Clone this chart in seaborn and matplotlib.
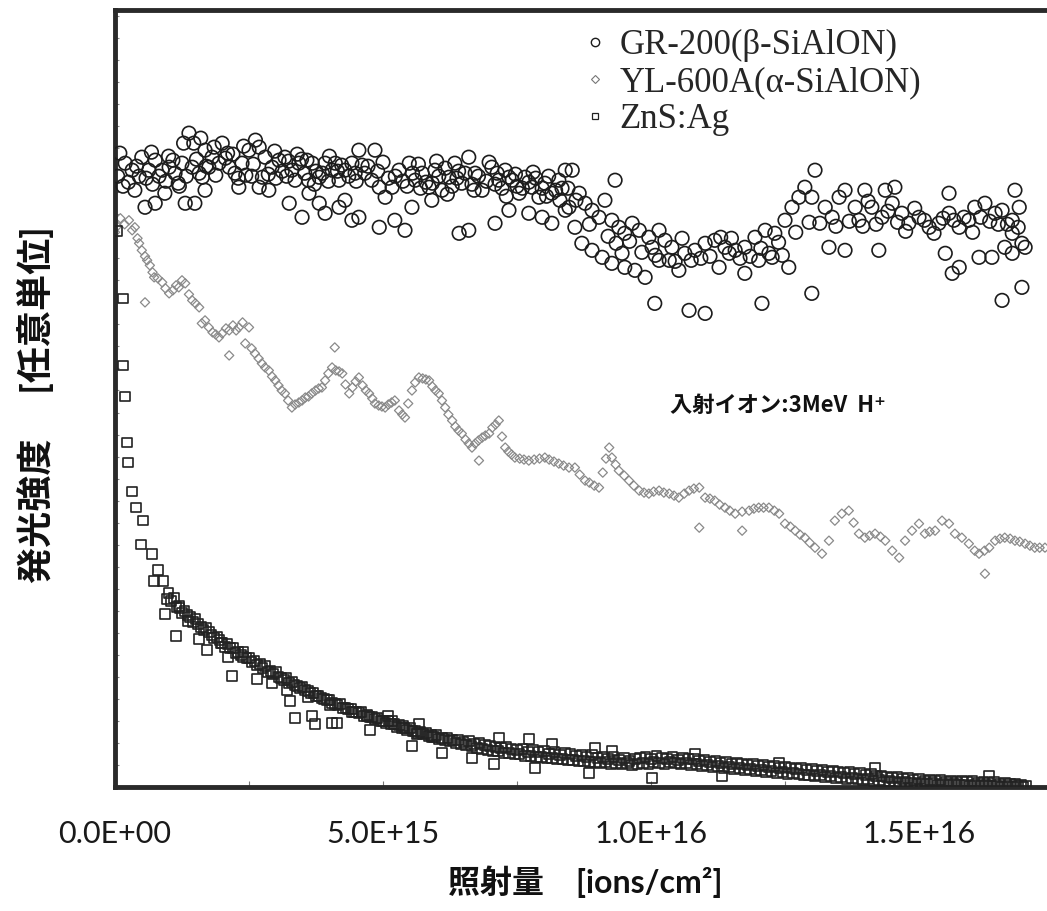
import matplotlib
matplotlib.use("Agg")
import matplotlib.pyplot as plt
import seaborn as sns
import pandas as pd
from matplotlib.ticker import FixedLocator, MultipleLocator
from matplotlib.lines import Line2D

# ---------------- data (dose in 1e15 ions/cm2, intensity in arbitrary units) -------------
series_names = ["GR-200(β-SiAlON)", "YL-600A(α-SiAlON)", "ZnS:Ag"]
x_tick_values = [0, 5, 10, 15]
x_tick_labels = ["0.0E+00", "5.0E+15", "1.0E+16", "1.5E+16"]

gr_points = [
    (0.09,63.3),(0.19,62.3),(0.32,61.6),(0.50,62.9),(0.63,61.6),(0.75,62.6),(0.88,61.6),(1.01,61.9),
    (1.12,61.3),(1.25,62.3),(1.44,61.9),(1.57,61.3),(1.38,65.3),(1.28,64.3),(1.47,64.3),(1.68,63.6),
    (1.81,62.9),(2.00,64.3),(1.94,62.3),(2.13,61.9),(2.24,61.3),(2.37,62.3),(2.50,63.6),(2.69,63.9),
    (2.80,62.9),(2.93,61.9),(3.06,62.6),(3.17,62.9),(3.30,61.6),(3.43,62.3),(3.54,61.3),(3.68,62.3),
    (3.81,60.9),(3.92,62.3),(4.05,61.6),(4.18,60.6),(4.29,61.6),(4.42,62.3),(4.55,63.6),(4.85,63.6),
    (4.66,61.3),(4.79,60.6),(4.93,59.9),(5.04,58.9),(5.17,59.9),(5.30,61.6),(5.49,62.3),(5.60,60.6),
    (5.73,61.3),(5.86,59.9),(5.97,61.6),(6.10,59.6),(6.23,60.9),(6.34,62.3),(6.47,60.3),(6.60,62.9),
    (6.72,61.3),(6.85,59.6),(7.03,61.9),(7.16,60.6),(7.28,61.6),(7.41,60.6),(7.54,59.3),(7.65,60.9),
    (7.78,59.9),(7.91,58.9),(8.02,60.3),(8.15,59.3),(8.28,60.6),(8.40,61.6),(8.47,57.9),
    (0.05,61.0),(0.25,60.4),(0.40,62.0),(0.58,60.8),(0.70,60.2),(0.82,61.0),(0.95,60.5),(1.08,62.6),
    (1.18,60.3),(1.33,61.0),(1.52,62.7),(1.63,60.9),(1.75,61.9),(1.88,61.1),(2.06,62.8),(2.20,63.2),
    (2.30,60.8),(2.44,61.1),(2.58,62.2),(2.75,60.9),(2.86,61.2),(3.00,60.8),(3.12,61.5),(3.24,62.5),
    (3.36,60.6),(3.48,62.7),(3.61,60.6),(3.75,61.5),(3.87,61.3),(3.98,60.5),(4.11,62.3),(4.23,62.1),
    (4.36,61.0),(4.48,61.3),(4.61,62.1),(4.72,62.0),(5.10,60.8),(5.23,61.0),(5.37,60.5),(5.55,61.3),
    (5.66,62.2),(5.80,60.4),(5.92,60.3),(6.04,61.0),(6.16,61.8),(6.29,60.0),(6.41,61.5),(6.53,61.3),
    (6.66,60.2),(6.78,61.0),(6.93,60.5),(7.09,60.2),(7.22,59.8),(7.35,60.9),(7.47,61.2),(7.60,59.8),
    (7.72,60.4),(7.85,60.8),(7.97,59.8),(8.09,61.0),(8.22,59.6),(8.34,59.8),
    (0.15,60.0),(0.45,61.0),(0.68,63.4),(1.00,63.0),(1.20,60.0),(1.60,64.8),(1.70,62.0),(1.85,63.9),
    (2.10,63.3),(2.40,64.0),(2.55,61.0),(2.62,64.6),(2.98,63.5),(3.20,61.0),(3.40,63.2),(3.58,62.6),
    (3.72,60.2),(4.00,63.0),(4.15,61.5),(4.50,60.5),(4.90,61.5),(5.00,62.4),(5.45,60.0),(5.70,59.8),
    (6.00,62.5),(6.20,59.2),(6.38,60.8),(6.70,59.6),(6.98,62.4),(7.13,61.3),(7.30,59.0),(7.50,60.0),
    (7.80,61.4),(8.05,59.0),(8.30,58.6),(8.45,59.8),
    (0.56,57.9),(0.75,58.3),(0.93,59.3),(0.37,59.6),(1.31,58.3),(1.49,58.3),(1.68,59.6),(2.31,59.9),
    (2.69,59.9),(2.87,59.6),(3.25,58.3),(3.49,56.9),(3.62,59.3),(3.81,58.3),(3.92,57.3),(4.18,57.9),
    (4.29,58.6),(4.42,56.6),(4.55,56.9),(4.93,55.9),(5.22,56.6),(5.41,55.6),(5.54,57.9),(5.91,58.6),
    (6.42,55.3),(6.60,55.6),(7.09,56.3),(7.35,57.6),(7.72,57.3),(7.97,56.9),(8.15,56.3),(8.40,57.6),
    (8.53,61.6),(9.33,60.6),(9.14,58.6),(8.66,59.3),(8.77,58.3),(8.90,57.6),(9.03,56.9),(8.58,55.9),
    (8.71,54.3),(8.90,53.6),(9.09,52.9),(9.27,56.6),(9.40,55.9),(9.51,55.3),(9.65,56.3),(9.78,55.6),
    (9.96,54.9),(10.15,55.6),(10.26,54.6),(10.39,53.9),(10.02,53.9),(9.46,53.3),(9.27,52.3),(9.51,51.9),
    (9.70,51.6),(9.89,50.9),(10.15,52.6),(10.34,52.6),(10.52,51.6),(10.63,53.3),(10.82,53.6),(11.01,54.3),
    (11.19,54.6),(11.38,53.9),(11.57,53.6),(11.75,53.9),(11.94,54.9),(12.13,55.6),(12.31,55.3),(12.50,56.6),
    (12.63,57.9),(12.76,58.9),(12.87,59.9),(13.00,58.9),(13.06,61.6),(13.25,57.9),(13.38,56.9),(13.51,58.9),
    (13.62,59.6),(13.81,57.9),(13.99,59.6),(13.88,56.6),(14.12,57.9),(14.31,56.9),(14.50,58.3),(14.68,57.3),
    (14.81,56.3),(15.00,56.9),(15.19,55.9),(15.37,56.3),(15.56,57.3),(15.75,55.9),(15.93,56.6),(16.04,57.9),
    (16.23,58.3),(16.42,57.3),(16.55,57.6),(16.74,56.6),(16.87,57.9),(16.92,54.3),(16.79,59.6),(16.74,55.3),
    (16.60,53.9),
    (10.07,48.3),(10.71,47.6),(11.01,47.3),(12.07,48.3),(13.00,49.3),(16.55,48.6),(16.92,49.9),
    (14.37,59.6),(14.55,59.9),(15.56,59.3),(13.32,53.9),(13.62,53.6),(14.25,53.6),(15.62,51.3),(15.75,51.9),
    (15.49,53.3),(16.12,52.9),(16.36,52.9),(16.74,53.3),(16.98,53.9),(12.57,51.9),(12.26,52.9),(11.75,51.3),
    (11.46,53.3),(12.01,52.6),(12.20,53.3),(11.27,51.9),
    (8.60,58.6),(8.85,56.2),(9.20,55.0),(9.35,54.3),(9.60,54.5),(9.83,53.4),(10.08,53.1),(10.45,52.5),
    (10.58,54.8),(10.75,52.6),(10.93,52.8),(11.10,53.0),(11.30,54.9),(11.50,54.8),(11.66,52.8),(11.85,53.0),
    (12.05,53.8),(12.38,54.4),(12.45,53.1),(12.70,55.4),(12.95,56.4),(13.15,56.3),(13.45,56.0),(13.70,56.5),
    (13.95,56.0),(14.05,58.5),(14.20,56.2),(14.42,57.5),(14.60,56.4),(14.75,55.5),(14.92,57.8),(15.10,56.6),
    (15.28,55.3),(15.45,56.8),(15.65,56.6),(15.84,56.9),(16.00,55.4),(16.15,56.9),(16.32,56.5),(16.48,56.2),
    (16.65,56.2),(16.85,55.9),
]

yl_points = [
    (0.00,55.4),(0.04,56.0),(0.10,56.8),(0.18,56.2),(0.26,56.6),(0.32,55.6),(0.37,55.9),(0.42,54.8),
    (0.45,54.3),(0.50,53.6),(0.56,53.0),(0.60,52.6),(0.65,52.1),(0.70,51.4),(0.73,50.9),(0.80,50.8),
    (0.88,50.4),(0.94,49.8),(1.01,49.3),(1.08,49.6),(1.14,50.1),(1.19,49.9),(1.25,50.6),(1.31,50.3),
    (1.38,49.2),(1.44,48.6),(1.50,48.3),(1.57,47.9),(1.62,46.3),(1.68,46.6),(1.75,45.9),(1.82,45.4),
    (1.88,45.2),(1.94,44.9),(2.00,45.3),(2.07,45.8),(2.13,45.6),(2.20,46.1),(2.26,45.6),(2.31,45.9),
    (2.38,46.4),(2.43,44.3),(2.50,45.9),(2.55,43.8),(2.61,43.3),(2.68,42.8),(2.74,42.3),(2.80,41.9),
    (2.87,41.6),(2.93,41.0),(2.99,40.6),(3.05,40.1),(3.11,39.6),(3.17,39.3),(3.23,38.6),(3.30,37.9),
    (3.36,38.2),(3.43,38.4),(3.49,38.6),(3.55,38.9),(3.61,39.0),(3.67,39.3),(3.74,39.6),(3.80,39.8),
    (3.86,39.9),(3.92,40.6),(3.98,41.3),(4.05,41.9),(4.12,41.6),(4.18,41.5),(4.24,41.3),(4.30,40.2),
    (4.37,39.3),(4.43,39.9),(4.49,40.5),(4.55,40.9),(4.62,40.1),(4.68,39.6),(4.74,39.3),(4.80,38.8),
    (4.85,38.3),(4.92,38.1),(4.98,38.0),(5.04,37.9),(5.10,38.2),(5.16,38.4),(5.22,38.6),(5.30,37.6),
    (5.36,37.2),(5.41,36.9),(5.47,38.3),(5.54,39.6),(5.60,40.4),(5.67,40.9),(5.74,40.8),(5.80,40.7),
    (5.86,40.6),(5.92,40.0),(5.98,39.6),(6.04,39.3),(6.10,38.6),(6.16,37.9),(6.22,37.2),(6.29,36.6),
    (6.35,36.0),(6.41,35.6),(6.47,35.3),(6.54,34.7),(6.60,34.3),(6.66,33.9),(6.72,34.3),(6.78,34.6),
    (6.85,34.9),(6.91,35.1),(6.98,35.3),(7.04,35.9),(7.10,36.2),(7.16,36.6),(7.22,35.0),(7.28,33.9),
    (7.34,33.5),(7.40,33.2),(7.46,32.9),(7.55,32.8),(7.63,32.7),(7.72,32.6),(7.82,32.7),(7.92,32.8),
    (8.02,32.9),(8.10,32.7),(8.19,32.5),(8.28,32.3),(8.37,32.1),(8.47,31.9),(8.58,31.9),(8.67,31.2),
    (8.77,30.6),(8.85,30.4),(8.94,30.1),(9.03,29.9),(9.10,31.4),(9.16,32.8),(9.22,33.9),(9.27,32.9),
    (9.34,32.2),(9.40,31.6),(9.50,31.1),(9.59,30.6),(9.68,30.1),(9.78,29.6),(9.87,29.4),(9.96,29.3),
    (10.05,29.5),(10.15,29.6),(10.24,29.4),(10.34,29.3),(10.43,29.1),(10.52,28.9),(10.62,29.3),(10.71,29.6),
    (10.80,29.8),(10.90,29.9),(11.01,28.9),(11.10,28.8),(11.19,28.6),(11.28,28.2),(11.38,27.9),(11.47,27.6),
    (11.57,27.3),(11.70,27.5),(11.83,27.6),(11.92,27.8),(12.01,27.9),(12.10,27.9),(12.20,27.9),(12.30,27.6),
    (12.39,27.3),(12.50,26.3),(12.60,26.0),(12.69,25.6),(12.78,25.2),(12.87,24.9),(12.96,24.4),(13.06,23.9),
    (13.19,23.3),(13.32,24.6),(13.43,26.6),(13.56,27.3),(13.69,27.6),(13.78,26.4),(13.88,25.3),(13.99,24.9),
    (14.08,25.1),(14.18,25.3),(14.28,25.0),(14.37,24.6),(14.50,23.6),(14.63,22.9),(14.74,24.6),(14.87,25.6),
    (15.00,26.3),(15.11,25.3),(15.20,25.5),(15.30,25.6),(15.43,26.6),(15.56,26.3),(15.67,25.3),(15.80,24.9),
    (15.93,24.3),(16.04,23.6),(16.12,23.3),(16.22,23.6),(16.31,23.9),(16.42,24.6),(16.51,24.8),(16.60,24.9),
    (16.70,24.8),(16.79,24.6),(16.88,24.5),(16.98,24.3),(17.07,24.1),(17.16,23.9),(17.25,23.9),(17.35,23.9),
    (0.56,48.4),(4.10,43.9),(6.79,32.6),(10.90,25.9),(11.70,25.6),(16.23,21.3),(2.13,43.1),
]

zns_band_x = [
    0.8,0.9,1.0,1.1,1.2,1.3,1.4,1.5,1.6,1.7,1.8,1.9,2.0,2.1,2.2,2.3,2.4,2.5,2.6,2.7,
    2.8,2.9,3.0,3.1,3.2,3.3,3.4,3.5,3.6,3.7,3.8,3.9,4.0,4.1,4.2,4.3,4.4,4.5,4.6,4.7,
    4.8,4.9,5.0,5.1,5.2,5.3,5.4,5.5,5.6,5.7,5.8,5.9,6.0,6.1,6.2,6.3,6.4,6.5,6.6,6.7,
    6.8,6.9,7.0,7.1,7.2,7.3,7.4,7.5,7.6,7.7,7.8,7.9,8.0,8.1,8.2,8.3,8.4,8.5,8.6,8.7,
    8.8,8.9,9.0,9.1,9.2,9.3,9.4,9.5,9.6,9.7,9.8,9.9,10.0,10.1,10.2,10.3,10.4,10.5,10.6,10.7,
    10.8,10.9,11.0,11.1,11.2,11.3,11.4,11.5,11.6,11.7,11.8,11.9,12.0,12.1,12.2,12.3,12.4,12.5,12.6,12.7,
    12.8,12.9,13.0,13.1,13.2,13.3,13.4,13.5,13.6,13.7,13.8,13.9,14.0,14.1,14.2,14.3,14.4,14.5,14.6,14.7,
    14.8,14.9,15.0,15.1,15.2,15.3,15.4,15.5,15.6,15.7,15.8,15.9,16.0,16.1,16.2,16.3,16.4,16.5,16.6,16.7,
    16.8,16.9,17.0,
]
zns_band_y = [
    21.7,20.6,19.4,18.9,17.9,17.6,17.0,16.8,16.0,15.9,15.2,15.0,14.4,14.3,13.9,13.5,13.5,12.9,12.6,12.3,
    12.1,11.6,11.5,10.9,10.9,10.5,10.1,10.0,9.6,9.4,9.1,8.8,8.7,8.3,8.3,7.9,7.8,7.5,7.5,7.2,
    7.0,6.9,6.6,6.6,6.3,6.2,5.9,5.9,5.6,5.5,5.4,5.2,5.2,4.9,4.9,4.7,4.7,4.5,4.6,4.3,
    4.4,4.2,4.1,4.0,3.9,4.0,3.8,3.7,3.8,3.5,3.7,3.5,3.6,3.3,3.5,3.2,3.4,3.3,3.1,3.2,
    3.0,3.2,2.9,3.0,2.8,3.0,2.7,2.9,2.6,2.8,2.9,3.0,2.8,3.1,2.9,2.8,3.0,2.7,2.9,2.8,
    2.8,2.6,2.7,2.5,2.6,2.4,2.5,2.3,2.4,2.3,2.2,2.3,2.1,2.2,2.0,2.1,1.9,2.0,1.9,1.8,
    1.9,1.7,1.8,1.6,1.7,1.5,1.6,1.5,1.4,1.5,1.3,1.4,1.2,1.3,1.1,1.1,1.0,0.9,1.0,0.8,
    0.9,0.7,0.8,0.6,0.7,0.6,0.7,0.5,0.6,0.5,0.6,0.5,0.6,0.4,0.5,0.4,0.5,0.3,0.4,0.3,
    0.3,0.2,0.1,
]
zns_band2_x = [
    1.05,1.15,1.25,1.35,1.45,1.55,1.65,1.75,1.85,1.95,2.05,2.15,2.25,2.35,2.45,2.55,2.65,2.75,2.85,2.95,
    3.05,3.15,3.25,3.35,3.45,3.55,3.65,3.75,3.85,3.95,4.05,4.15,4.25,4.35,4.45,4.55,4.65,4.75,4.85,4.95,
    5.05,5.15,5.25,5.35,5.45,5.55,5.65,5.75,5.85,5.95,6.05,6.15,6.25,6.35,6.45,6.55,6.65,6.75,6.85,6.95,
    7.05,7.15,7.25,7.35,7.45,7.55,7.65,7.75,7.85,7.95,8.05,8.15,8.25,8.35,8.45,8.55,8.65,8.75,8.85,8.95,
    9.05,9.15,9.25,9.35,9.45,9.55,9.65,9.75,9.85,9.95,10.05,10.15,10.25,10.35,10.45,10.55,10.65,10.75,10.85,10.95,
    11.05,11.15,11.25,11.35,11.45,11.55,11.65,11.75,11.85,11.95,12.05,12.15,12.25,12.35,12.45,12.55,12.65,12.75,12.85,12.95,
    13.05,13.15,13.25,13.35,13.45,13.55,13.65,13.75,13.85,13.95,14.05,14.15,14.25,14.35,14.45,14.55,14.65,14.75,14.85,14.95,
    15.05,15.15,15.25,15.35,15.45,15.55,15.65,15.75,15.85,15.95,16.05,16.15,16.25,16.35,16.45,16.55,16.65,16.75,16.85,16.95,
]
zns_band2_y = [
    18.6,18.0,17.4,17.2,16.5,16.3,15.7,15.5,14.9,14.7,14.0,13.9,13.4,13.2,12.9,12.5,12.2,11.9,11.5,11.3,
    11.0,10.7,10.4,10.2,9.9,9.7,9.4,9.1,8.9,8.7,8.4,8.2,7.9,7.8,7.5,7.4,7.1,7.0,6.8,6.6,
    6.4,6.3,6.0,5.9,5.7,5.6,5.4,5.3,5.1,5.0,4.8,4.7,4.6,4.4,4.3,4.2,4.1,3.9,3.8,3.7,
    3.6,3.6,3.4,3.4,3.3,3.3,3.1,3.1,3.0,3.0,2.9,2.9,2.8,2.8,2.7,2.7,2.6,2.6,2.5,2.5,
    2.4,2.5,2.3,2.4,2.3,2.4,2.2,2.3,2.4,2.3,2.5,2.4,2.3,2.5,2.4,2.3,2.4,2.2,2.3,2.1,
    2.2,2.0,2.1,1.9,2.0,1.8,1.9,1.7,1.8,1.6,1.7,1.5,1.6,1.4,1.5,1.3,1.4,1.3,1.2,1.2,
    1.1,1.2,1.0,1.1,0.9,1.0,0.8,0.9,0.8,0.7,0.8,0.6,0.7,0.5,0.6,0.5,0.4,0.5,0.4,0.3,
    0.4,0.3,0.4,0.2,0.3,0.2,0.3,0.2,0.2,0.1,0.2,0.1,0.2,0.1,0.1,0.0,0.1,0.0,0.1,0.0,
]
zns_scatter_points = [
    (0.04,55.5),(0.15,48.8),(0.15,42.1),(0.19,39.0),(0.22,34.4),(0.24,32.4),(0.32,29.5),(0.39,27.9),
    (0.49,24.2),(0.52,26.6),(0.69,23.3),(0.73,20.6),(0.93,17.3),(0.97,18.8),(1.14,15.1),(1.19,18.1),
    (1.36,16.6),(1.57,14.8),(1.72,13.7),(1.98,14.4),(2.11,13.0),(2.18,11.1),(2.39,13.0),(2.65,10.8),
    (2.93,10.4),(3.21,9.7),(3.26,8.6),(3.60,9.0),(3.68,7.1),(4.01,8.2),(4.14,6.4),(4.42,7.5),
    (4.70,7.1),(4.76,5.7),(5.09,7.1),(5.37,6.1),(5.63,5.3),(5.91,5.0),
    (5.54,4.1),(6.10,3.4),(6.66,2.9),(7.07,2.3),(7.84,1.9),(8.84,1.4),(5.17,6.6),(5.67,6.3),
    (7.16,4.9),(7.72,4.8),(8.15,4.3),(3.36,6.9),(3.73,6.3),(4.05,6.4),
    (8.96,3.9),(9.27,3.6),(10.82,3.3),(12.39,2.4),(14.18,1.9),(16.31,1.1),(11.32,1.1),(10.02,0.9),
]

annotation_text = "入射イオン:3MeV  H⁺"
x_label = "照射量　[ions/cm²]"
y_label = "発光強度　 [任意単位]"

# ---------------- build tables ----------------
gr_df = pd.DataFrame(gr_points, columns=["dose", "intensity"])
yl_df = pd.DataFrame(yl_points, columns=["dose", "intensity"])
zns_df = pd.concat([
    pd.DataFrame({"dose": zns_band_x, "intensity": zns_band_y}),
    pd.DataFrame({"dose": zns_band2_x, "intensity": zns_band2_y}),
    pd.DataFrame(zns_scatter_points, columns=["dose", "intensity"]),
], ignore_index=True)

sns.set_theme(style="white")
plt.rcParams["font.family"] = ["Lato", "Noto Sans CJK JP", "DejaVu Sans"]

W, H = 1047, 911
fig = plt.figure(figsize=(W / 100, H / 100), dpi=100)
ax = fig.add_axes([115 / W, 124 / H, (W - 115) / W, 777 / H])

gr_col, yl_col, zns_col = "#1c1c1c", "#8a8a8a", "#222222"

sns.scatterplot(data=yl_df, x="dose", y="intensity", ax=ax, marker="D", s=22,
                facecolor="none", edgecolor=yl_col, linewidth=0.9, zorder=2, legend=False)
sns.scatterplot(data=gr_df, x="dose", y="intensity", ax=ax, marker="o", s=95,
                facecolor="none", edgecolor=gr_col, linewidth=1.2, zorder=3, legend=False)
sns.scatterplot(data=zns_df, x="dose", y="intensity", ax=ax, marker="s", s=48,
                facecolor="none", edgecolor=zns_col, linewidth=1.2, zorder=4, legend=False)

ax.set_xlim(0, (W - 115) / 53.6)
ax.set_ylim(0, 77.6)

ax.xaxis.set_major_locator(FixedLocator(x_tick_values))
ax.set_xticklabels(x_tick_labels)
ax.xaxis.set_minor_locator(FixedLocator([2.5, 7.5, 12.5]))
ax.yaxis.set_major_locator(MultipleLocator(2.2))
ax.tick_params(axis="x", which="both", direction="in", length=4, width=0.8, color="#777777",
               labelsize=22, pad=24, labelcolor="#1a1a1a", bottom=True)
ax.tick_params(axis="y", which="both", direction="in", length=3, width=0.8, color="#888888",
               labelleft=False, left=True)
ax.set_xlabel("")
ax.set_ylabel("")

for side in ["left", "bottom", "top"]:
    ax.spines[side].set_color("#2a2a2a")
    ax.spines[side].set_linewidth(3.5)
ax.spines["right"].set_visible(False)

handles = [
    Line2D([], [], linestyle="none", marker="o", markersize=6, markerfacecolor="none",
           markeredgecolor=gr_col, markeredgewidth=1.0),
    Line2D([], [], linestyle="none", marker="D", markersize=4.5, markerfacecolor="none",
           markeredgecolor="#777777", markeredgewidth=0.8),
    Line2D([], [], linestyle="none", marker="s", markersize=5, markerfacecolor="none",
           markeredgecolor=zns_col, markeredgewidth=0.9),
]
ax.legend(handles, series_names, loc="upper left", bbox_to_anchor=(0.502, 0.9755),
          frameon=False, prop={"family": "Liberation Serif", "size": 25},
          handlelength=0.7, handletextpad=0.35, labelspacing=0.12, borderpad=0,
          borderaxespad=0)

ax.text(10.35, 38.1, annotation_text, ha="left", va="center", fontsize=16, fontweight="bold",
        family=["Noto Sans CJK JP", "DejaVu Sans"], color="#111111")

fig.text(585 / W, 1 - 882 / H, x_label, ha="center", va="center", fontsize=23,
         fontweight="bold", color="#111111")
fig.text(35 / W, 1 - 405 / H, y_label, ha="center", va="center", rotation=90, fontsize=26,
         fontweight="bold", color="#111111")

fig.savefig("out.png", dpi=100)
